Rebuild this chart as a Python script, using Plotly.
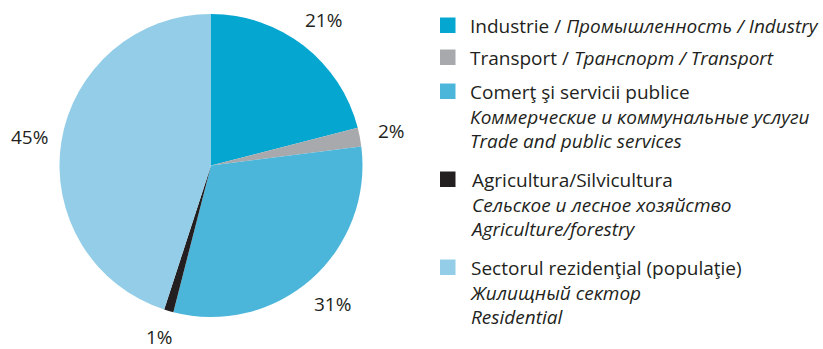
import numpy as np
import plotly.graph_objects as go

# Energy consumption by sector, share of total (%)
sectors = [
    "Industrie",
    "Transport",
    "Comerţ şi servicii publice",
    "Agricultura/Silvicultura",
    "Sectorul rezidenţial (populaţie)",
]
shares = [21, 2, 31, 1, 45]
colors = ["#05A6D0", "#A7A9AC", "#4CB6DA", "#231F20", "#93CDE7"]

# legend text, one list of lines per sector (Romanian / Russian / English)
legend_lines = [
    ["Industrie / <i>Промышленность / Industry</i>"],
    ["Transport / <i>Транспорт / Transport</i>"],
    ["Comerţ şi servicii publice", "<i>Коммерческие и коммунальные услуги</i>", "<i>Trade and public services</i>"],
    ["Agricultura/Silvicultura", "<i>Сельское и лесное хозяйство</i>", "<i>Agriculture/forestry</i>"],
    ["Sectorul rezidenţial (populaţie)", "<i>Жилищный сектор</i>", "<i>Residential</i>"],
]

W, H = 823, 349
FONT = "Open Sans"
FS = 19
TEXT = "#231F20"

# pie geometry in pixels
cx, cy, r = 211, 165.5, 151.5
label_r = 184

# legend layout in pixels
leg_sq_x0, leg_sq_size = 440, 15.5
leg_text_x = 468
leg_first_baseline = [33, 65, 99, 187, 275]
leg_text_top_offset = 22  # distance from first baseline up to the text box top


def px2paper(x, y):
    return x / W, 1 - y / H


fig = go.Figure()
fig.add_trace(go.Pie(
    labels=sectors,
    values=shares,
    marker=dict(colors=colors, line=dict(width=0)),
    sort=False,
    direction="clockwise",
    rotation=0,
    textinfo="none",
    hoverinfo="label+percent",
    showlegend=False,
    domain=dict(x=[(cx - r) / W, (cx + r) / W], y=[1 - (cy + r) / H, 1 - (cy - r) / H]),
))

# percentage labels placed at each slice's mid-angle, kept inside the page
vals = np.array(shares, dtype=float)
cum = np.cumsum(vals) - vals / 2
mid = cum / vals.sum() * 2 * np.pi
half_box = 0.65 * FS
for v, a in zip(shares, mid):
    px = cx + label_r * np.sin(a)
    py = min(cy - label_r * np.cos(a), H - half_box)
    lx, ly = px2paper(px, py)
    fig.add_annotation(
        x=lx, y=ly, xref="paper", yref="paper",
        text=f"{v}%", showarrow=False,
        font=dict(family=FONT, size=FS, color=TEXT),
        xanchor="center", yanchor="middle",
    )

# legend: colour squares plus stacked text lines
for color, lines, base in zip(colors, legend_lines, leg_first_baseline):
    x0, y0 = px2paper(leg_sq_x0, base - leg_sq_size)
    x1, y1 = px2paper(leg_sq_x0 + leg_sq_size, base)
    fig.add_shape(type="rect", xref="paper", yref="paper",
                  x0=x0, x1=x1, y0=y1, y1=y0,
                  fillcolor=color, line=dict(width=0))
    tx, ty = px2paper(leg_text_x, base - leg_text_top_offset)
    fig.add_annotation(
        x=tx, y=ty, xref="paper", yref="paper",
        text="<br>".join(lines), showarrow=False,
        font=dict(family=FONT, size=FS, color=TEXT),
        xanchor="left", yanchor="top", align="left",
    )

fig.update_layout(
    width=W, height=H,
    margin=dict(l=0, r=0, t=0, b=0),
    paper_bgcolor="white",
    plot_bgcolor="white",
    showlegend=False,
)

fig.write_html("out.html")
